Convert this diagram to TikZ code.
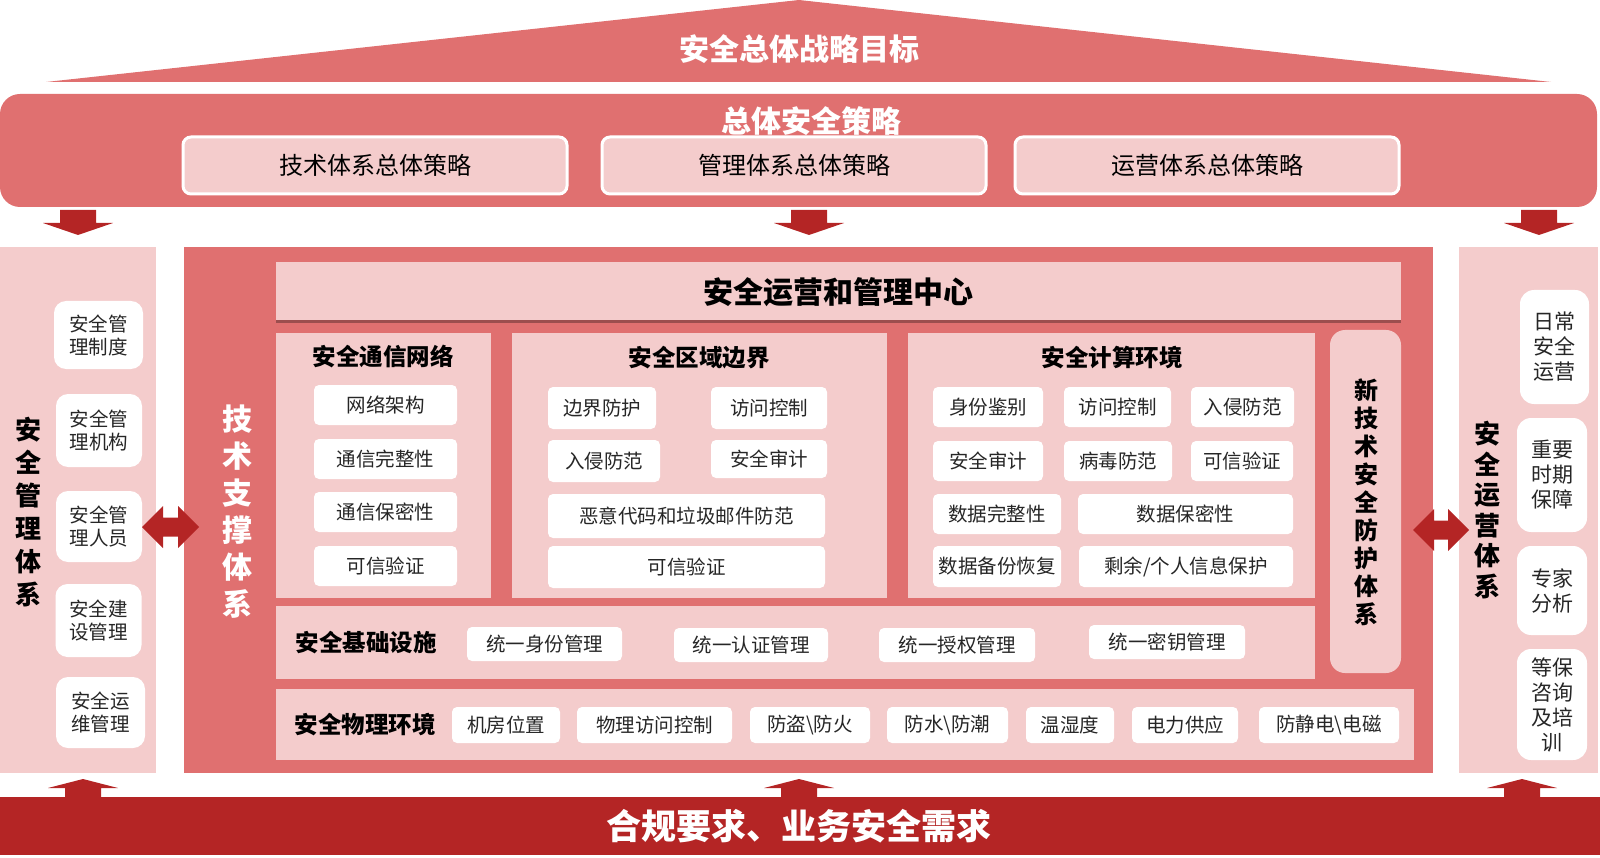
\documentclass[tikz,border=0pt]{standalone}
\usepackage{fontspec}
\setmainfont{Noto Sans CJK SC}
\usetikzlibrary{shadows}
\definecolor{roofred}{HTML}{E07070}
\definecolor{panelpink}{HTML}{F4CCCC}
\definecolor{arrowred}{HTML}{B42525}
\begin{document}
\begin{tikzpicture}[x=1pt,y=-1pt,
	item/.style={fill=white,rounded corners=5pt,inner sep=1pt,text=black!85,font=\fontsize{19.5}{23}\selectfont},
	sidebox/.style={fill=white,rounded corners=12pt,inner sep=1pt,align=center,text=black!85,font=\fontsize{19.5}{23}\selectfont},
	opsbox/.style={fill=white,rounded corners=14pt,inner sep=1pt,align=center,text=black!85,font=\fontsize{21}{25}\selectfont},
	stratbox/.style={fill=panelpink,draw=white,line width=3pt,rounded corners=8pt,minimum width=384,minimum height=57,font=\fontsize{24}{28}\selectfont},
	coltitle/.style={font=\fontsize{23.5}{28}\selectfont\bfseries},
	bigtitle/.style={text=white,font=\fontsize{30}{36}\selectfont\bfseries}]
	\useasboundingbox (0,0) rectangle (1600,858);
	
	% roof and overall strategy
	\fill[roofred] (46,82) -- (799,0) -- (1551,82) -- cycle;
	\node[bigtitle] (goal) at (799,49) {安全总体战略目标};
	\fill[roofred,rounded corners=20pt] (0,94) rectangle (1597,207);
	\node[bigtitle] (policy) at (811,121) {总体安全策略};
	\node[stratbox] (techpol) at (375,165.5) {技术体系总体策略};
	\node[stratbox] (mgmtpol) at (794,165.5) {管理体系总体策略};
	\node[stratbox] (opspol) at (1207,165.5) {运营体系总体策略};
	
	\fill[arrowred] (60,210) -- (96,210) -- (96,223) -- (113,223) -- (78,235) -- (43,223) -- (60,223) -- cycle;
	\fill[arrowred] (791,210) -- (827,210) -- (827,223) -- (844,223) -- (809,235) -- (774,223) -- (791,223) -- cycle;
	\fill[arrowred] (1521,210) -- (1557,210) -- (1557,223) -- (1574,223) -- (1539,235) -- (1504,223) -- (1521,223) -- cycle;
	
	% management system
	\fill[panelpink] (0,247) rectangle (156,773);
	\node[align=center,font=\fontsize{26}{33}\selectfont\bfseries] (mgmt) at (28,512) {安\\全\\管\\理\\体\\系};
	\node[sidebox,minimum width=89,minimum height=68] (mg1) at (98.5,335) {安全管\\理制度};
	\node[sidebox,minimum width=86,minimum height=73] (mg2) at (99,430.5) {安全管\\理机构};
	\node[sidebox,minimum width=86,minimum height=71] (mg3) at (99,526.5) {安全管\\理人员};
	\node[sidebox,minimum width=86,minimum height=73] (mg4) at (98.5,620.5) {安全建\\设管理};
	\node[sidebox,minimum width=89,minimum height=71] (mg5) at (100.5,712.5) {安全运\\维管理};
	
	% operations system
	\fill[panelpink] (1459,247) rectangle (1598,773);
	\node[align=center,font=\fontsize{26}{30.6}\selectfont\bfseries] (ops) at (1487,510) {安\\全\\运\\营\\体\\系};
	\node[opsbox,minimum width=69,minimum height=114] (op1) at (1554.5,347) {日常\\安全\\运营};
	\node[opsbox,minimum width=70,minimum height=114] (op2) at (1552,475) {重要\\时期\\保障};
	\node[opsbox,minimum width=70,minimum height=89] (op3) at (1552,590.5) {专家\\分析};
	\node[opsbox,minimum width=70,minimum height=111] (op4) at (1552,704.5) {等保\\咨询\\及培\\训};
	
	% technical support system
	\fill[roofred] (184,247) rectangle (1433,773);
	\node[align=center,text=white,font=\fontsize{30}{37}\selectfont\bfseries] (tech) at (237,512) {技\\术\\支\\撑\\体\\系};
	\fill[panelpink,drop shadow={shadow xshift=0pt,shadow yshift=-3pt,fill=black,opacity=0.3}] (276,262) rectangle (1401,320);
	\node[font=\fontsize{30}{36}\selectfont\bfseries] (center) at (838,292) {安全运营和管理中心};
	
	\fill[panelpink] (276,333) rectangle (491,598);
	\node[coltitle] (net) at (383,356) {安全通信网络};
	\node[item,minimum width=143,minimum height=40] (n1) at (385.5,405) {网络架构};
	\node[item,minimum width=143,minimum height=40] (n2) at (385.5,459) {通信完整性};
	\node[item,minimum width=143,minimum height=40] (n3) at (385.5,512) {通信保密性};
	\node[item,minimum width=143,minimum height=40] (n4) at (385.5,566) {可信验证};
	
	\fill[panelpink] (512,333) rectangle (887,598);
	\node[coltitle] (edge) at (699,358) {安全区域边界};
	\node[item,minimum width=108,minimum height=42] (e1) at (602,408) {边界防护};
	\node[item,minimum width=116,minimum height=42] (e2) at (769,408) {访问控制};
	\node[item,minimum width=112,minimum height=42] (e3) at (604,461) {入侵防范};
	\node[item,minimum width=116,minimum height=38] (e4) at (769,459) {安全审计};
	\node[item,minimum width=277,minimum height=44] (e5) at (686.5,516) {恶意代码和垃圾邮件防范};
	\node[item,minimum width=277,minimum height=42] (e6) at (686.5,567) {可信验证};
	
	\fill[panelpink] (908,333) rectangle (1315,598);
	\node[coltitle] (comp) at (1112,358) {安全计算环境};
	\node[item,minimum width=110,minimum height=40] (c1) at (988,407) {身份鉴别};
	\node[item,minimum width=107,minimum height=40] (c2) at (1117.5,407) {访问控制};
	\node[item,minimum width=103,minimum height=40] (c3) at (1242.5,407) {入侵防范};
	\node[item,minimum width=110,minimum height=40] (c4) at (988,461) {安全审计};
	\node[item,minimum width=108,minimum height=40] (c5) at (1118,461) {病毒防范};
	\node[item,minimum width=102,minimum height=40] (c6) at (1242,461) {可信验证};
	\node[item,minimum width=128,minimum height=40] (c7) at (997,514) {数据完整性};
	\node[item,minimum width=215,minimum height=40] (c8) at (1185.5,514) {数据保密性};
	\node[item,minimum width=128,minimum height=41] (c9) at (997,566.5) {数据备份恢复};
	\node[item,minimum width=214,minimum height=41] (c10) at (1186,566.5) {剩余/个人信息保护};
	
	\fill[panelpink,rounded corners=15pt] (1330,330) rectangle (1401,673);
	\node[align=center,font=\fontsize{24}{28}\selectfont\bfseries] (newtech) at (1366,502) {新\\技\\术\\安\\全\\防\\护\\体\\系};
	
	\fill[panelpink] (276,606) rectangle (1315,679);
	\node[coltitle,anchor=west] (infra) at (292,643) {安全基础设施};
	\node[item,minimum width=155,minimum height=34] (i1) at (544.5,644) {统一身份管理};
	\node[item,minimum width=154,minimum height=34] (i2) at (751,645) {统一认证管理};
	\node[item,minimum width=156,minimum height=34] (i3) at (957,645) {统一授权管理};
	\node[item,minimum width=156,minimum height=34] (i4) at (1167,642) {统一密钥管理};
	
	\fill[panelpink] (276,689) rectangle (1414,760);
	\node[coltitle,anchor=west] (phys) at (291,725) {安全物理环境};
	\node[item,minimum width=108,minimum height=36] (p1) at (506,725) {机房位置};
	\node[item,minimum width=155,minimum height=36] (p2) at (654.5,725) {物理访问控制};
	\node[item,minimum width=120,minimum height=36] (p3) at (810,725) {防盗\textbackslash 防火};
	\node[item,minimum width=121,minimum height=36] (p4) at (947.5,725) {防水\textbackslash 防潮};
	\node[item,minimum width=88,minimum height=36] (p5) at (1070,725) {温湿度};
	\node[item,minimum width=106,minimum height=36] (p6) at (1185,725) {电力供应};
	\node[item,minimum width=140,minimum height=36] (p7) at (1329,725) {防静电\textbackslash 电磁};
	
	% two-way arrows
	\fill[arrowred] (142,527) -- (163,506) -- (163,517.5) -- (178,517.5) -- (178,506) -- (199,527) -- (178,548) -- (178,536.5) -- (163,536.5) -- (163,548) -- cycle;
	\fill[arrowred] (1413,530) -- (1434,509) -- (1434,520.5) -- (1448,520.5) -- (1448,509) -- (1469,530) -- (1448,551) -- (1448,539.5) -- (1434,539.5) -- (1434,551) -- cycle;
	
	% compliance base
	\fill[arrowred] (83,779) -- (118,788) -- (101,788) -- (101,797) -- (65,797) -- (65,788) -- (48,788) -- cycle;
	\fill[arrowred] (799,779) -- (834,788) -- (817,788) -- (817,797) -- (781,797) -- (781,788) -- (764,788) -- cycle;
	\fill[arrowred] (1522,779) -- (1557,788) -- (1540,788) -- (1540,797) -- (1504,797) -- (1504,788) -- (1487,788) -- cycle;
	\fill[arrowred] (0,797) rectangle (1600,855);
	\node[text=white,font=\fontsize{35}{40}\selectfont\bfseries] (base) at (799,826) {合规要求、业务安全需求};
\end{tikzpicture}
\end{document}
